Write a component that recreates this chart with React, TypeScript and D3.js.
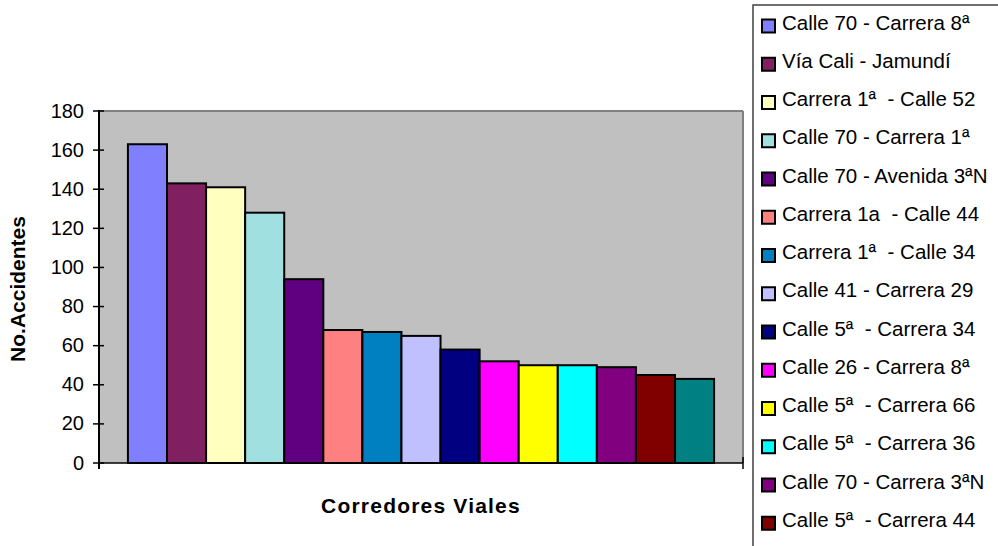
import React from "react";
import * as d3 from "d3";

const categories = [
  "Calle 70 - Carrera 8ª",
  "Vía Cali - Jamundí",
  "Carrera 1ª  - Calle 52",
  "Calle 70 - Carrera 1ª",
  "Calle 70 - Avenida 3ªN",
  "Carrera 1a  - Calle 44",
  "Carrera 1ª  - Calle 34",
  "Calle 41 - Carrera 29",
  "Calle 5ª  - Carrera 34",
  "Calle 26 - Carrera 8ª",
  "Calle 5ª  - Carrera 66",
  "Calle 5ª  - Carrera 36",
  "Calle 70 - Carrera 3ªN",
  "Calle 5ª  - Carrera 44",
  "",
];
const values = [163, 143, 141, 128, 94, 68, 67, 65, 58, 52, 50, 50, 49, 45, 43];
const colors = [
  "#8080FF", "#802060", "#FFFFC0", "#A0E0E0", "#600080",
  "#FF8080", "#0080C0", "#C0C0FF", "#000080", "#FF00FF",
  "#FFFF00", "#00FFFF", "#800080", "#800000", "#008080",
];
const yTicks = [0, 20, 40, 60, 80, 100, 120, 140, 160, 180];
const yTitle = "No.Accidentes";
const xTitle = "Corredores Viales";

const FONT = "'Liberation Sans', Arial, sans-serif";

export default function App() {
  const left = 99, right = 743, top = 111, bottom = 463;
  const y = d3.scaleLinear().domain([0, 180]).range([bottom, top]);
  const x = d3
    .scaleBand<number>()
    .domain(values.map((_, i) => i))
    .range([left, right])
    .paddingInner(0)
    .paddingOuter(0.74);

  const legendX = 753, legendY = 5;
  const legendStep = 38.25, legendBase0 = 29.5;

  return (
    <svg
      width={998}
      height={546}
      style={{ position: "fixed", left: 0, top: 0, background: "#fff" }}
      fontFamily={FONT}
    >
      <rect x={0} y={0} width={998} height={546} fill="#fff" />
      {/* plot area */}
      <rect x={left} y={top} width={right - left} height={bottom - top} fill="#C0C0C0" />
      <line x1={left} x2={right} y1={top} y2={top} stroke="#808080" strokeWidth={2} />
      <line x1={right} x2={right} y1={top} y2={bottom} stroke="#808080" strokeWidth={2} />

      {/* bars */}
      {values.map((v, i) => (
        <rect
          key={i}
          x={x(i)!}
          y={y(v)}
          width={x.bandwidth()}
          height={bottom - y(v)}
          fill={colors[i]}
          stroke="#000"
          strokeWidth={2}
        />
      ))}

      {/* axes */}
      <line x1={left} x2={left} y1={top - 1} y2={bottom + 6} stroke="#000" strokeWidth={2} />
      <line x1={left} x2={right} y1={bottom} y2={bottom} stroke="#000" strokeWidth={1.5} />
      <line x1={right} x2={right} y1={bottom - 6} y2={bottom + 6} stroke="#000" strokeWidth={1.5} />
      {yTicks.map((t) => (
        <g key={t}>
          <line x1={left - 6} x2={left + 5} y1={y(t)} y2={y(t)} stroke="#000" strokeWidth={1.5} />
          <text x={84} y={y(t) + 6.5} textAnchor="end" fontSize={20} fill="#000">
            {t}
          </text>
        </g>
      ))}

      {/* axis titles */}
      <text
        transform={`translate(25, 289) rotate(-90)`}
        textAnchor="middle"
        fontSize={21}
        fontWeight="bold"
        fill="#000"
      >
        {yTitle}
      </text>
      <text
        x={(left + right) / 2}
        y={512.5}
        textAnchor="middle"
        fontSize={21}
        fontWeight="bold"
        letterSpacing={1.2}
        fill="#000"
      >
        {xTitle}
      </text>

      {/* legend */}
      <rect
        x={legendX}
        y={legendY}
        width={400}
        height={700}
        fill="#fff"
        stroke="#404040"
        strokeWidth={1.5}
      />
      {categories.map((name, i) => {
        const base = legendBase0 + i * legendStep;
        return (
          <g key={i}>
            <rect
              x={762}
              y={base - 10}
              width={13}
              height={13}
              fill={colors[i]}
              stroke="#000"
              strokeWidth={2}
            />
            <text
              x={782}
              y={base}
              fontSize={20.5}
              fill="#000"
              style={{ whiteSpace: "pre" }}
            >
              {name}
            </text>
          </g>
        );
      })}
    </svg>
  );
}
